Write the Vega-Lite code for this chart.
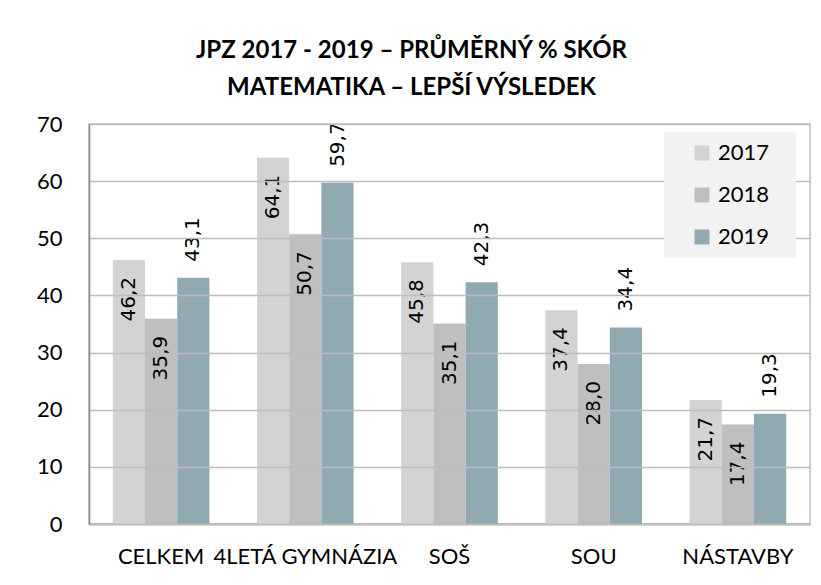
{
  "$schema": "https://vega.github.io/schema/vega-lite/v6.json",
  "width": 721,
  "height": 400,
  "autosize": "none",
  "padding": {"left": 89, "top": 124, "right": 11, "bottom": 61},
  "background": "white",
  "config": {
    "locale": {"number": {"decimal": ",", "thousands": " ", "grouping": [3], "currency": ["", " Kč"]}},
    "view": {"stroke": "#c0c0c0", "strokeWidth": 1.5},
    "font": "Lato"
  },
  "title": {
    "text": ["JPZ 2017 - 2019 – PRŮMĚRNÝ % SKÓR", "MATEMATIKA – LEPŠÍ VÝSLEDEK"],
    "font": "Lato",
    "fontSize": 24,
    "fontWeight": "bold",
    "color": "#000000",
    "anchor": "middle",
    "dx": -38,
    "lineHeight": 37,
    "offset": 13
  },
  "data": {
    "values": [
      {"typ": "CELKEM", "rok": "2017", "skore": 46.2},
      {"typ": "CELKEM", "rok": "2018", "skore": 35.9},
      {"typ": "CELKEM", "rok": "2019", "skore": 43.1},
      {"typ": "4LETÁ GYMNÁZIA", "rok": "2017", "skore": 64.1},
      {"typ": "4LETÁ GYMNÁZIA", "rok": "2018", "skore": 50.7},
      {"typ": "4LETÁ GYMNÁZIA", "rok": "2019", "skore": 59.7},
      {"typ": "SOŠ", "rok": "2017", "skore": 45.8},
      {"typ": "SOŠ", "rok": "2018", "skore": 35.1},
      {"typ": "SOŠ", "rok": "2019", "skore": 42.3},
      {"typ": "SOU", "rok": "2017", "skore": 37.4},
      {"typ": "SOU", "rok": "2018", "skore": 28.0},
      {"typ": "SOU", "rok": "2019", "skore": 34.4},
      {"typ": "NÁSTAVBY", "rok": "2017", "skore": 21.7},
      {"typ": "NÁSTAVBY", "rok": "2018", "skore": 17.4},
      {"typ": "NÁSTAVBY", "rok": "2019", "skore": 19.3}
    ]
  },
  "encoding": {
    "x": {
      "field": "typ",
      "type": "nominal",
      "sort": null,
      "scale": {"paddingInner": 0.33, "paddingOuter": 0.165},
      "axis": {
        "title": null,
        "labelAngle": 0,
        "labelFont": "Lato",
        "labelFontSize": 22,
        "labelColor": "#000000",
        "labelPadding": 22,
        "ticks": false,
        "domainColor": "#868686",
        "domainWidth": 1.5,
        "labelLimit": 300
      }
    },
    "xOffset": {"field": "rok", "type": "nominal", "scale": {"paddingInner": 0, "paddingOuter": 0}},
    "y": {
      "field": "skore",
      "type": "quantitative",
      "scale": {"domain": [0, 70], "nice": false},
      "axis": {
        "title": null,
        "values": [0, 10, 20, 30, 40, 50, 60, 70],
        "labelFont": "Lato",
        "labelFontSize": 22,
        "labelColor": "#000000",
        "labelPadding": 27,
        "ticks": false,
        "domainColor": "#868686",
        "domainWidth": 1.5,
        "gridColor": "#bcbcbc",
        "gridWidth": 1.5,
        "zindex": 1
      }
    }
  },
  "layer": [
    {
      "mark": {"type": "bar"},
      "encoding": {
        "color": {
          "field": "rok",
          "type": "nominal",
          "scale": {"domain": ["2017", "2018", "2019"], "range": ["#d3d3d3", "#bfbfbf", "#91aab1"]},
          "legend": {
            "title": null,
            "orient": "none",
            "legendX": 575,
            "legendY": 8,
            "zindex": 3,
            "fillColor": "#f2f2f2",
            "padding": 10,
            "symbolOffset": 17,
            "symbolType": "square",
            "symbolSize": 225,
            "symbolStrokeWidth": 0,
            "labelFont": "Lato",
            "labelFontSize": 22,
            "labelColor": "#000000",
            "labelOffset": 5,
            "rowPadding": 20,
            "labelExpr": "datum.label + '\u2800'"
          }
        }
      }
    },
    {
      "transform": [{"filter": "datum.rok != '2019'"}],
      "mark": {"type": "text", "angle": -90, "align": "right", "baseline": "middle", "dx": -17, "font": "DejaVu Sans", "fontSize": 20, "color": "#000000"},
      "encoding": {
        "text": {"field": "skore", "type": "quantitative", "format": ".1f"}
      }
    },
    {
      "transform": [{"filter": "datum.rok == '2019'"}],
      "mark": {"type": "text", "angle": -90, "align": "left", "baseline": "middle", "dx": 16, "font": "DejaVu Sans", "fontSize": 20, "color": "#000000"},
      "encoding": {
        "text": {"field": "skore", "type": "quantitative", "format": ".1f"}
      }
    }
  ]
}
